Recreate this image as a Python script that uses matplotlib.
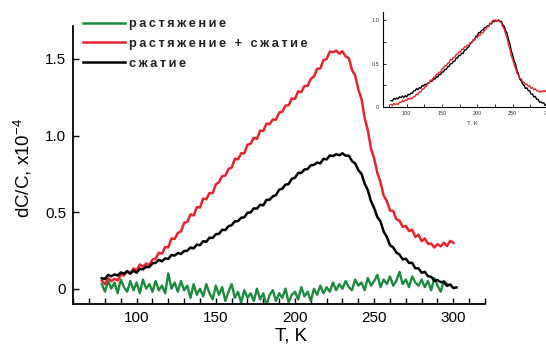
import numpy as np
import matplotlib
matplotlib.use('Agg')
import matplotlib.pyplot as plt
from matplotlib.lines import Line2D

plt.rcParams['font.family'] = ['Liberation Sans', 'DejaVu Sans']
plt.rcParams['mathtext.default'] = 'regular'

# temperature grids (K)
T_green = np.arange(78, 297, 2)
T_red = np.arange(78, 301, 2)
T_black = np.arange(78, 303, 2)

# dC/C, x1e-4 : растяжение
green = [0.03, -0.02, 0.05, 0.00, 0.04, -0.03, 0.06, 0.01, -0.02, 0.05,
         -0.01, 0.04, -0.03, 0.06, 0.00, 0.03, -0.02, 0.05, -0.01, 0.02,
         -0.03, 0.10, 0.00, 0.04, -0.02, 0.05, -0.01, 0.02, -0.06, 0.03,
         -0.04, 0.00, -0.05, 0.03, -0.03, -0.07, 0.02, -0.04, 0.01, -0.08,
         -0.02, 0.03, -0.06, -0.02, -0.09, -0.01, -0.06, -0.03, -0.08, 0.00,
         -0.07, -0.03, -0.11, -0.04, -0.01, -0.08, -0.03, -0.06, 0.00, -0.09,
         -0.04, -0.02, -0.07, 0.01, -0.05, -0.02, -0.08, 0.00, -0.04, 0.02,
         -0.03, 0.01, -0.02, 0.04, -0.01, 0.03, 0.00, 0.05, 0.01, -0.01,
         0.06, 0.02, 0.04, -0.01, 0.07, 0.02, 0.05, 0.09, 0.01, 0.06,
         0.03, 0.08, 0.02, 0.05, 0.11, 0.03, 0.06, 0.01, 0.08, 0.04,
         0.02, 0.06, 0.01, 0.05, -0.01, 0.07, 0.02, -0.02, 0.05, 0.03]

# растяжение + сжатие
red = [0.052, 0.030, 0.068, 0.049, 0.064, 0.054, 0.090, 0.086, 0.115, 0.098,
       0.132, 0.120, 0.158, 0.144, 0.164, 0.154, 0.190, 0.196, 0.235, 0.228,
       0.272, 0.270, 0.328, 0.324, 0.364, 0.374, 0.430, 0.436, 0.485, 0.478,
       0.532, 0.530, 0.588, 0.584, 0.624, 0.624, 0.680, 0.696, 0.735, 0.738,
       0.782, 0.790, 0.848, 0.844, 0.884, 0.884, 0.940, 0.946, 0.985, 0.978,
       1.032, 1.030, 1.078, 1.074, 1.104, 1.104, 1.150, 1.156, 1.195, 1.198,
       1.242, 1.240, 1.288, 1.284, 1.324, 1.324, 1.370, 1.386, 1.435, 1.438,
       1.492, 1.500, 1.548, 1.544, 1.554, 1.534, 1.550, 1.516, 1.505, 1.428,
       1.392, 1.300, 1.238, 1.114, 1.034, 0.914, 0.850, 0.756, 0.695, 0.608,
       0.572, 0.510, 0.508, 0.454, 0.444, 0.404, 0.410, 0.376, 0.385, 0.338,
       0.352, 0.310, 0.328, 0.294, 0.294, 0.269, 0.290, 0.276, 0.300, 0.278,
       0.312, 0.300]

# сжатие
black = [0.068, 0.064, 0.090, 0.081, 0.093, 0.086, 0.106, 0.098, 0.114, 0.098,
         0.118, 0.104, 0.130, 0.126, 0.143, 0.141, 0.166, 0.168, 0.189, 0.178,
         0.198, 0.194, 0.220, 0.216, 0.233, 0.226, 0.246, 0.248, 0.269, 0.263,
         0.288, 0.284, 0.310, 0.306, 0.333, 0.331, 0.356, 0.358, 0.384, 0.383,
         0.408, 0.414, 0.440, 0.441, 0.463, 0.466, 0.496, 0.498, 0.524, 0.523,
         0.548, 0.544, 0.580, 0.581, 0.603, 0.611, 0.646, 0.653, 0.679, 0.683,
         0.718, 0.724, 0.755, 0.756, 0.778, 0.781, 0.806, 0.808, 0.824, 0.818,
         0.848, 0.844, 0.870, 0.866, 0.878, 0.871, 0.884, 0.868, 0.869, 0.833,
         0.818, 0.774, 0.750, 0.686, 0.643, 0.571, 0.526, 0.468, 0.439, 0.373,
         0.338, 0.284, 0.270, 0.236, 0.223, 0.191, 0.196, 0.168, 0.169, 0.133,
         0.133, 0.104, 0.110, 0.081, 0.078, 0.051, 0.056, 0.043, 0.044, 0.018,
         0.028, 0.004, 0.008]

labels = ['растяжение', 'растяжение + сжатие', 'сжатие']
colors = ['#1b8a3c', '#e8232b', 'black']

fig = plt.figure(figsize=(5.46, 3.45), dpi=100)
W, H = 546.0, 345.0

# main plot
ax = fig.add_axes([73.3 / W, 41 / H, 411.7 / W, 278 / H])
ax.plot(T_green, green, color=colors[0], lw=1.7)
ax.plot(T_red, red, color=colors[1], lw=1.8)
ax.plot(T_black, black, color=colors[2], lw=1.8)
ax.set_xlim(60, 320)
ax.set_ylim(-0.1, 1.715)
ax.set_xticks(np.arange(60, 321, 10))
ax.set_xticklabels([str(t) if t % 50 == 0 and 100 <= t <= 300 else '' for t in range(60, 321, 10)])
ax.set_yticks([0, 0.5, 1.0, 1.5])
ax.set_yticklabels(['0', '0.5', '1.0', '1.5'])
ax.tick_params(direction='in', length=4, width=1, labelsize=11, pad=5)
for s in ['top', 'right']:
    ax.spines[s].set_visible(False)
for s in ['left', 'bottom']:
    ax.spines[s].set_linewidth(1.3)
ax.set_xlabel('T, K', fontsize=13.5)
ax.xaxis.set_label_coords(0.53, -0.085)
ax.set_ylabel('dC/C, x10$^{-4}$', fontsize=13.5)
ax.yaxis.set_label_coords(-0.095, 0.49)

handles = [Line2D([], [], color=c, lw=1.8) for c in colors]
spaced = ['\u2009'.join(l) for l in labels]
leg = ax.legend(handles, spaced, loc='upper left', bbox_to_anchor=(82.7 / W, 1 - 18 / H),
                bbox_transform=fig.transFigure, frameon=False,
                prop={'size': 9.2, 'weight': 'bold'}, handlelength=3.3,
                handletextpad=0.3, labelspacing=0.62, borderpad=0, borderaxespad=0)
for t in leg.get_texts():
    t.set_color('#222222')

# inset with normalised curves
axi = fig.add_axes([383.3 / W, (H - 107.3) / H, 178.9 / W, 95.3 / H])
axi.plot(T_black, np.array(black) / max(black), color='black', lw=1.0)
axi.plot(T_red, np.array(red) / max(red), color=colors[1], lw=1.0)
axi.set_xlim(67, 320)
axi.set_ylim(0, 1.09)
axi.set_xticks(np.arange(75, 321, 25))
axi.set_xticklabels([str(t) if t % 50 == 0 else '' for t in range(75, 321, 25)])
axi.set_yticks([0, 0.25, 0.5, 0.75, 1.0])
axi.set_yticklabels(['0', '', '0.5', '', '1.0'])
axi.tick_params(direction='in', length=2, width=0.6, labelsize=4, pad=3, labelcolor='#333333')
for s in ['top', 'right']:
    axi.spines[s].set_visible(False)
for s in ['left', 'bottom']:
    axi.spines[s].set_linewidth(0.8)
axi.set_xlabel('T, K', fontsize=4.5, color='#333333', labelpad=3)

fig.savefig('out.png', dpi=100)
